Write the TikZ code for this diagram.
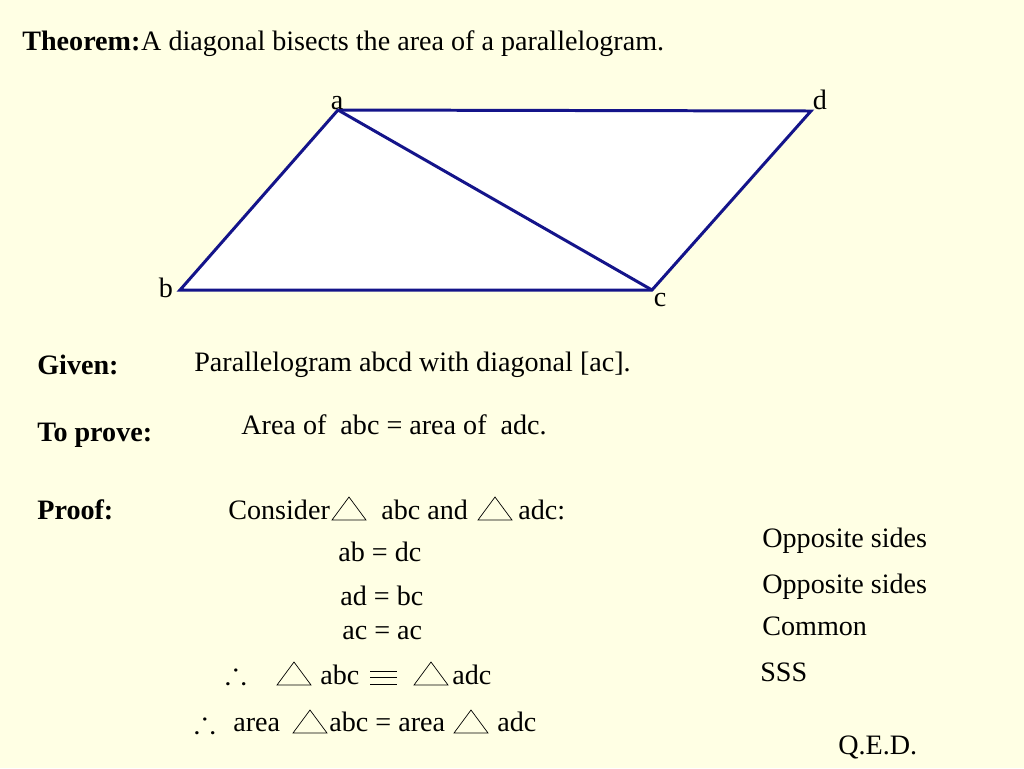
\documentclass[tikz,border=0pt]{standalone}
\usepackage{amssymb}
\usepackage{fontspec}
\setmainfont{Liberation Serif}
\usepackage{tikz}
\definecolor{paper}{RGB}{255,255,228}
\definecolor{edge}{RGB}{20,20,138}
\tikzstyle{txt} = [inner sep=0pt, anchor=base west, font=\fontsize{16}{19}\selectfont]
\tikzstyle{head} = [txt, font=\fontsize{16}{19}\selectfont\bfseries]
\tikzstyle{vert} = [inner sep=0pt, anchor=base, font=\fontsize{16}{19}\selectfont]
\tikzstyle{thus} = [inner sep=0pt, anchor=base west, font=\fontsize{18}{18}\selectfont]
\tikzstyle{side} = [draw=edge, line width=1.7pt, fill=white]
% small triangle sign, centre of its base at #1
\newcommand{\trisign}[1]{\draw[thin] (#1) ++(-17,0) -- ++(34,0) -- ++(-17,-23) -- cycle;}

\begin{document}
\begin{tikzpicture}[x=0.02cm, y=-0.02cm]
\fill[paper] (0,0) rectangle (1024,768);

% the parallelogram
\coordinate (a) at (338,110);
\coordinate (d) at (811,111);
\coordinate (c) at (652,290);
\coordinate (b) at (180,290);
\filldraw[side] (a) -- (d) -- (c) -- (b) -- cycle;
\draw[side, fill=none] (a) -- (c);
\node[vert] (la) at (337,109) {a};
\node[vert] (ld) at (820,109) {d};
\node[vert] (lb) at (166,297) {b};
\node[vert] (lc) at (660,306) {c};

% statement
\node[head] (thm) at (22,50) {Theorem:};
\node[txt] (thmtext) at (thm.base east) {A diagonal bisects the area of a parallelogram.};

\node[head] (given) at (37,374) {Given:};
\node[txt] (giventext) at (194,371) {Parallelogram abcd with diagonal [ac].};
\node[head] (prove) at (37,441) {To prove:};
\node[txt] (provetext) at (241,434) {Area of \ abc = area of \ adc.};
\node[head] (proof) at (37,519) {Proof:};

% the proof
\node[txt] (cons) at (228,519) {Consider};
\trisign{349,520}
\node[txt] (cons2) at (381,519) {abc and};
\trisign{495,520}
\node[txt] (cons3) at (518,519) {adc:};

\node[txt] (s1) at (338,561) {ab = dc};
\node[txt] (s2) at (340,605) {ad = bc};
\node[txt] (s3) at (342,639) {ac = ac};

\node[thus] (th1) at (225,683) {$\therefore$};
\trisign{294,685}
\node[txt] (c1) at (320,684) {abc};
% congruence sign
\foreach \yy in {671,677.5,684}
  \draw[thin] (370,\yy) -- (397,\yy);
\trisign{431,685}
\node[txt] (c2) at (452,684) {adc};

\node[thus] (th2) at (194,732) {$\therefore$};
\node[txt] (ar1) at (233,731) {area};
\trisign{310,733}
\node[txt] (ar2) at (329,731) {abc = area};
\trisign{471,733}
\node[txt] (ar3) at (497,731) {adc};

% reasons
\node[txt] (r1) at (762,547) {Opposite sides};
\node[txt] (r2) at (762,593) {Opposite sides};
\node[txt] (r3) at (762,635) {Common};
\node[txt] (r4) at (760,681) {SSS};
\node[txt] (qed) at (838,754) {Q.E.D.};
\end{tikzpicture}
\end{document}
